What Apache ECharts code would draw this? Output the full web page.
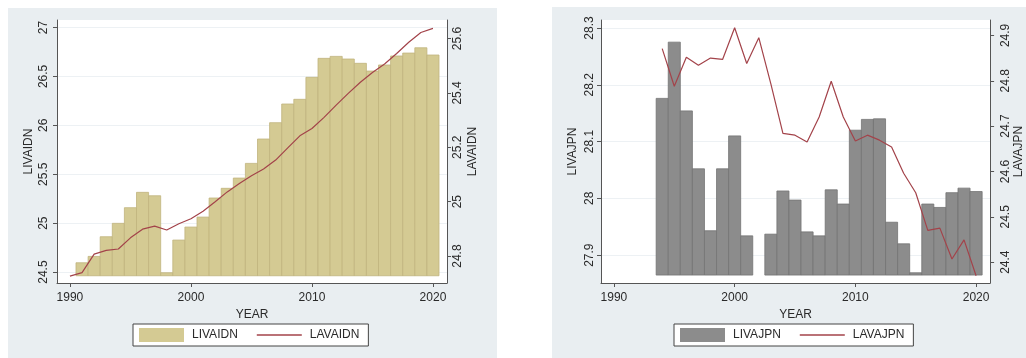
<!DOCTYPE html>
<html>
<head>
<meta charset="utf-8">
<script src="https://cdn.jsdelivr.net/npm/echarts@6/dist/echarts.min.js"></script>
<style>
  html, body { margin: 0; padding: 0; background: #fff; }
  #chart { width: 1026px; height: 358px; }
</style>
</head>
<body>
<div id="chart"></div>
<script>
// Years on the horizontal axis
const years = [1990, 1991, 1992, 1993, 1994, 1995, 1996, 1997, 1998, 1999,
               2000, 2001, 2002, 2003, 2004, 2005, 2006, 2007, 2008, 2009,
               2010, 2011, 2012, 2013, 2014, 2015, 2016, 2017, 2018, 2019, 2020];

// Indonesia
const livaidn = [null, 24.595, 24.66, 24.861, 24.998, 25.158, 25.315, 25.28, 24.493, 24.827,
                 24.96, 25.062, 25.257, 25.356, 25.461, 25.611, 25.86, 26.027, 26.218, 26.266,
                 26.491, 26.685, 26.705, 26.678, 26.634, 26.555, 26.617, 26.709, 26.739, 26.793, 26.719];
const lavaidn = [24.726, 24.739, 24.807, 24.821, 24.826, 24.867, 24.899, 24.910, 24.896, 24.919,
                 24.937, 24.965, 25.0, 25.036, 25.067, 25.095, 25.12, 25.153, 25.198, 25.242,
                 25.269, 25.31, 25.355, 25.398, 25.439, 25.475, 25.506, 25.545, 25.586, 25.622, 25.637];
const idnBarBase = 24.462;

// Japan
const livajpn = [null, null, null, null, 28.176, 28.275, 28.154, 28.052, 27.943, 28.052,
                 28.11, 27.934, null, 27.937, 28.013, 27.997, 27.941, 27.934, 28.015, 27.99,
                 28.12, 28.139, 28.14, 27.958, 27.92, 27.869, 27.99, 27.984, 28.01, 28.018, 28.012];
const lavajpn = [null, null, null, null, 24.871, 24.788, 24.852, 24.834, 24.85, 24.847,
                 24.917, 24.838, 24.895, 24.793, 24.684, 24.68, 24.665, 24.72, 24.799, 24.72,
                 24.667, 24.68, 24.669, 24.654, 24.596, 24.553, 24.47, 24.475, 24.407, 24.449, 24.37];
const jpnBarBase = 27.865;

// Tick labels
const yearTicks = [1990, 2000, 2010, 2020];
const idnLeftTicks = [24.5, 25, 25.5, 26, 26.5, 27];
const idnRightTicks = [24.8, 25, 25.2, 25.4, 25.6];
const jpnLeftTicks = [27.9, 28, 28.1, 28.2, 28.3];
const jpnRightTicks = [24.4, 24.5, 24.6, 24.7, 24.8, 24.9];

// Axis ranges
const yearRange = [1988.93, 2021.16];
const idnLeftRange = [24.388, 27.077];
const idnRightRange = [24.701, 25.668];
const jpnLeftRange = [27.851, 28.314];
const jpnRightRange = [24.354, 24.934];

const FONT = "'Liberation Sans', Arial, Helvetica, sans-serif";
const TEXT = '#2a2a2a';
const AXIS = '#555';
const LINE = '#a3434a';
// thin horizontal stroke used as the legend key for the line series
const LINE_KEY = 'path://M0 0H45V1.3H0Z';

function barData(vals, base) {
  const out = [];
  vals.forEach((v, i) => { if (v != null) out.push([years[i], v, base]); });
  return out;
}
function lineData(vals) {
  const out = [];
  vals.forEach((v, i) => { if (v != null) out.push([years[i], v]); });
  return out;
}

// Contiguous one-year bars rising from a common baseline
function barRenderer(fill, stroke) {
  return function (params, api) {
    const x = api.value(0), v = api.value(1), base = api.value(2);
    const p0 = api.coord([x - 0.5, base]);
    const p1 = api.coord([x + 0.5, v]);
    return {
      type: 'rect',
      shape: { x: p0[0], y: p1[1], width: p1[0] - p0[0], height: p0[1] - p1[1] },
      style: { fill: fill, stroke: stroke, lineWidth: 0.8 }
    };
  };
}

function xAxis(gridIndex) {
  return {
    type: 'value', gridIndex: gridIndex,
    min: yearRange[0], max: yearRange[1],
    name: 'YEAR', nameLocation: 'middle', nameGap: 23,
    nameTextStyle: { fontFamily: FONT, fontSize: 12, color: TEXT },
    axisLine: { show: true, lineStyle: { color: AXIS, width: 1 } },
    axisTick: { show: true, length: 4, customValues: yearTicks, lineStyle: { color: AXIS } },
    axisLabel: { customValues: yearTicks, margin: 9, fontFamily: FONT, fontSize: 12, color: TEXT,
                 formatter: v => String(Math.round(v)) },
    splitLine: { show: false }
  };
}

function yAxis(gridIndex, position, range, ticks, name, grid, labelMargin, nameGap) {
  return {
    type: 'value', gridIndex: gridIndex, position: position,
    min: range[0], max: range[1],
    name: name, nameLocation: 'middle', nameRotate: 90, nameGap: nameGap,
    nameTextStyle: { fontFamily: FONT, fontSize: 12, color: TEXT },
    axisLine: { show: true, lineStyle: { color: AXIS, width: 1 } },
    axisTick: { show: true, length: 4, customValues: ticks, lineStyle: { color: AXIS } },
    axisLabel: { customValues: ticks, rotate: 90, margin: labelMargin, fontFamily: FONT, fontSize: 12, color: TEXT,
                 formatter: v => String(+v.toFixed(2)) },
    splitLine: { show: grid, lineStyle: { color: '#edf1f4', width: 1 } }
  };
}

function legend(left, names, swatch) {
  return {
    left: left, top: 324, orient: 'horizontal',
    data: [{ name: names[0], icon: 'rect', itemStyle: { color: swatch, borderWidth: 0 } },
           { name: names[1], icon: LINE_KEY, itemStyle: { color: LINE, borderWidth: 0 } }],
    itemWidth: 45, itemHeight: 14, itemGap: 19,
    backgroundColor: '#fff', borderColor: '#444', borderWidth: 1, borderRadius: 0,
    padding: [4, 9, 4, 6],
    textStyle: { fontFamily: FONT, fontSize: 12, color: TEXT, padding: [0, 0, 0, 3] }
  };
}

const chart = echarts.init(document.getElementById('chart'), null, { renderer: 'canvas' });

chart.setOption({
  backgroundColor: '#ffffff',
  animation: false,
  textStyle: { fontFamily: FONT },
  graphic: [
    { type: 'rect', z: -10, shape: { x: 8, y: 8, width: 489, height: 350 }, style: { fill: '#e9eef1' } },
    { type: 'rect', z: -10, shape: { x: 552, y: 7, width: 474, height: 351 }, style: { fill: '#e9eef1' } }
  ],
  grid: [
    { left: 57, top: 20, width: 390, height: 263, show: true, backgroundColor: '#ffffff', borderWidth: 0 },
    { left: 601, top: 20, width: 390, height: 263, show: true, backgroundColor: '#ffffff', borderWidth: 0 }
  ],
  xAxis: [xAxis(0), xAxis(1)],
  yAxis: [
    yAxis(0, 'left', idnLeftRange, idnLeftTicks, 'LIVAIDN', true, 7, 22),
    yAxis(0, 'right', idnRightRange, idnRightTicks, 'LAVAIDN', false, 5, 20),
    yAxis(1, 'left', jpnLeftRange, jpnLeftTicks, 'LIVAJPN', true, 5, 22),
    yAxis(1, 'right', jpnRightRange, jpnRightTicks, 'LAVAJPN', false, 10, 20)
  ],
  legend: [
    legend(133, ['LIVAIDN', 'LAVAIDN'], '#d4ca93'),
    legend(674, ['LIVAJPN', 'LAVAJPN'], '#8c8c8c')
  ],
  series: [
    {
      name: 'LIVAIDN', type: 'custom', xAxisIndex: 0, yAxisIndex: 0,
      renderItem: barRenderer('#d4ca93', '#c0b47d'),
      itemStyle: { color: '#d4ca93' },
      encode: { x: 0, y: 1 },
      data: barData(livaidn, idnBarBase), z: 2
    },
    {
      name: 'LAVAIDN', type: 'line', xAxisIndex: 0, yAxisIndex: 1,
      symbol: 'none', lineStyle: { color: LINE, width: 1.2 }, itemStyle: { color: LINE },
      data: lineData(lavaidn), z: 3
    },
    {
      name: 'LIVAJPN', type: 'custom', xAxisIndex: 1, yAxisIndex: 2,
      renderItem: barRenderer('#8c8c8c', '#737373'),
      itemStyle: { color: '#8c8c8c' },
      encode: { x: 0, y: 1 },
      data: barData(livajpn, jpnBarBase), z: 2
    },
    {
      name: 'LAVAJPN', type: 'line', xAxisIndex: 1, yAxisIndex: 3,
      symbol: 'none', lineStyle: { color: LINE, width: 1.2 }, itemStyle: { color: LINE },
      data: lineData(lavajpn), z: 3
    }
  ]
});
</script>
</body>
</html>
